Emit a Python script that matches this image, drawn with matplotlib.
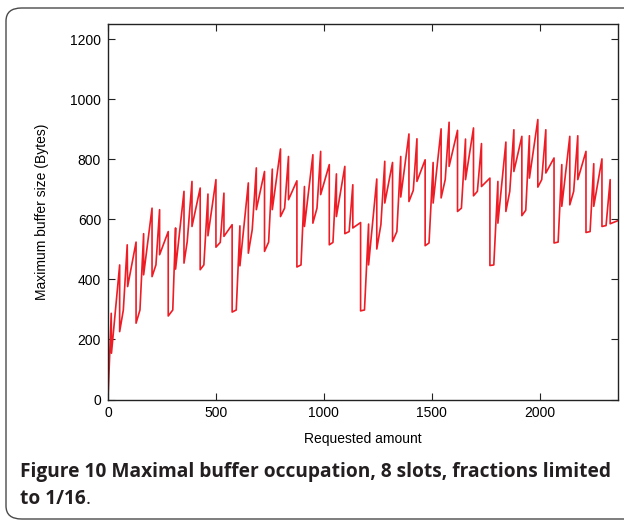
import numpy as np
import matplotlib.pyplot as plt
from matplotlib.patches import FancyBboxPatch

# Requested amount vs maximal buffer size
requested = [0, 15, 16, 54, 54, 71, 89, 91, 130, 130, 148, 165, 165, 204, 204, 222, 239, 239,
             279, 279, 300, 313, 313, 352, 352, 367, 389, 389, 427, 427, 444, 463, 463, 500, 500,
             520, 537, 537, 575, 575, 594, 611, 611, 650, 650, 668, 687, 687, 725, 725, 744, 761,
             761, 799, 799, 818, 836, 836, 875, 875, 894, 910, 910, 949, 949, 968, 985, 985, 1025,
             1025, 1042, 1058, 1058, 1097, 1097, 1117, 1134, 1134, 1170, 1170, 1188, 1207, 1207,
             1245, 1245, 1264, 1282, 1282, 1318, 1318, 1338, 1356, 1356, 1394, 1394, 1414, 1431,
             1431, 1469, 1469, 1487, 1506, 1506, 1543, 1543, 1562, 1580, 1580, 1619, 1619, 1637,
             1656, 1656, 1693, 1693, 1711, 1730, 1730, 1769, 1769, 1787, 1806, 1806, 1843, 1843,
             1861, 1880, 1880, 1917, 1917, 1935, 1952, 1952, 1991, 1991, 2009, 2028, 2028, 2066,
             2066, 2085, 2102, 2102, 2139, 2139, 2157, 2176, 2176, 2214, 2214, 2233, 2250, 2250,
             2288, 2288, 2307, 2326, 2326, 2364]
buffer_size = [0, 287, 154, 448, 226, 298, 515, 376, 524, 254, 298, 552, 415, 637, 409, 448, 632, 482,
               559, 278, 298, 571, 434, 693, 454, 526, 726, 576, 704, 432, 448, 684, 545, 732, 507,
               523, 687, 543, 582, 291, 298, 578, 445, 721, 487, 565, 771, 632, 759, 493, 524, 767,
               632, 834, 609, 637, 809, 665, 728, 441, 448, 709, 576, 815, 587, 637, 826, 682, 782,
               515, 523, 751, 609, 776, 552, 559, 715, 571, 589, 295, 298, 584, 448,
               734, 501, 582, 793, 654, 789, 526, 559, 809, 674, 884, 659, 696, 868,
               726, 798, 512, 521, 789, 654, 901, 671, 732, 923, 776, 896, 626, 637,
               867, 732, 904, 678, 693, 852, 709, 737, 446, 448, 726, 587, 857, 626,
               693, 898, 759, 876, 612, 630, 878, 737, 932, 707, 732, 898, 754, 804,
               521, 524, 782, 643, 876, 648, 693, 878, 732, 826, 556, 559, 785, 643,
               801, 576, 579, 732, 585, 596]

xticks = [0, 500, 1000, 1500, 2000]
yticks = [0, 200, 400, 600, 800, 1000, 1200]

W, H = 624, 522
fig = plt.figure(figsize=(W / 100, H / 100), dpi=100)

# rounded frame around the figure + caption (open on the right, like the page crop)
frame = FancyBboxPatch((6 / W, 1 - 519 / H), (720 - 6) / W, (519 - 8) / H,
                       boxstyle="round,pad=0,rounding_size=0.025",
                       transform=fig.transFigure, fill=False,
                       edgecolor='#4a4a4a', linewidth=1.0, clip_on=False)
fig.patches.append(frame)

ax = fig.add_axes([108 / W, 1 - 399.5 / H, (617.5 - 108) / W, (399.5 - 24) / H])
ax.plot(requested, buffer_size, color='#ee1c25', linewidth=1.2)

ax.set_xlim(0, 2360)
ax.set_ylim(0, 1250)
ax.set_xticks(xticks)
ax.set_yticks(yticks)
ax.tick_params(direction='in', length=5, width=0.8, top=True, right=True,
               labelsize=10, pad=5, colors='#222222', labelcolor='black')
for lab in ax.get_xticklabels() + ax.get_yticklabels():
    lab.set_family('Liberation Sans')
for s in ax.spines.values():
    s.set_linewidth(1.0)
    s.set_color('#222222')

ax.set_xlabel('Requested amount', family='Liberation Sans', fontsize=10, labelpad=8)
ax.set_ylabel('Maximum buffer size (Bytes)', family='Liberation Sans', fontsize=10, labelpad=15)

cap_kw = dict(family='Open Sans', fontsize=13.8, color='#231f20', va='center')
fig.text(20 / W, 1 - 472 / H, 'Figure 10 Maximal buffer occupation, 8 slots, fractions limited',
         fontweight='bold', **cap_kw)
t2 = fig.text(20 / W, 1 - 499 / H, 'to 1/16', fontweight='bold', **cap_kw)

# put the (non-bold) period right after the bold text
fig.canvas.draw()
bb = t2.get_window_extent()
fig.text(bb.x1 / W, 1 - 499 / H, '.', **cap_kw)

fig.savefig('out.png', dpi=100)
